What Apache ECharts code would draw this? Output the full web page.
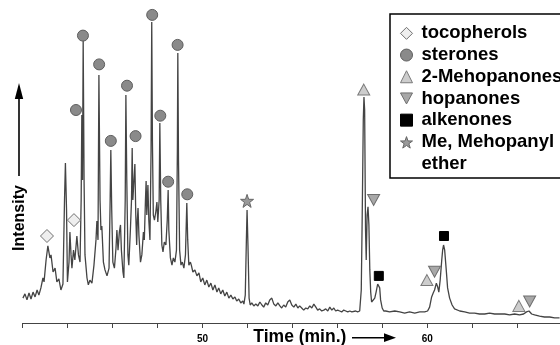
<!DOCTYPE html>
<html><head><meta charset="utf-8">
<script src="https://cdn.jsdelivr.net/npm/echarts@6/dist/echarts.min.js"></script>
<style>html,body{margin:0;padding:0;background:#fff}#c{width:560px;height:345px}</style>
</head><body><div id="c"></div>
<script>
// Chromatogram trace: retention time (min) and relative intensity
const timeMin = [42.01,42.10,42.19,42.28,42.37,42.46,42.55,42.64,42.72,42.81,42.90,42.95,43.04,43.12,43.21,43.26,43.35,43.44,43.52,43.61,43.70,43.79,43.86,43.90,43.95,43.99,44.06,44.10,44.15,44.19,44.26,44.32,44.41,44.48,44.55,44.60,44.63,44.66,44.69,44.73,44.77,44.86,44.92,44.99,45.08,45.17,45.26,45.30,45.35,45.39,45.44,45.48,45.52,45.59,45.66,45.75,45.84,45.89,45.92,45.96,46.01,46.08,46.15,46.19,46.24,46.30,46.35,46.39,46.46,46.50,46.56,46.59,46.63,46.68,46.72,46.79,46.84,46.87,46.90,46.96,46.99,47.03,47.07,47.10,47.13,47.17,47.24,47.30,47.37,47.41,47.46,47.49,47.52,47.57,47.61,47.66,47.71,47.74,47.77,47.81,47.86,47.92,47.97,48.01,48.07,48.10,48.14,48.19,48.24,48.30,48.37,48.43,48.47,48.50,48.57,48.64,48.70,48.77,48.84,48.88,48.90,48.93,48.98,49.04,49.10,49.17,49.24,49.28,49.30,49.34,49.39,49.46,49.50,49.57,49.66,49.75,49.84,49.92,50.01,50.10,50.19,50.28,50.37,50.46,50.55,50.64,50.72,50.81,50.90,50.99,51.08,51.17,51.26,51.35,51.44,51.52,51.61,51.70,51.79,51.84,51.90,51.95,51.98,52.02,52.07,52.12,52.19,52.28,52.37,52.46,52.55,52.64,52.72,52.81,52.90,52.99,53.08,53.17,53.26,53.35,53.44,53.52,53.61,53.70,53.79,53.88,53.97,54.06,54.15,54.24,54.32,54.41,54.50,54.59,54.68,54.77,54.86,54.95,55.04,55.12,55.21,55.30,55.39,55.48,55.57,55.66,55.75,55.84,55.92,56.01,56.10,56.19,56.28,56.37,56.46,56.55,56.64,56.72,56.81,56.90,56.99,57.06,57.10,57.15,57.18,57.21,57.25,57.28,57.32,57.36,57.40,57.44,57.48,57.52,57.59,57.66,57.72,57.79,57.84,57.88,57.92,57.99,58.06,58.15,58.32,58.55,58.77,58.99,59.21,59.44,59.66,59.88,60.01,60.10,60.19,60.26,60.32,60.40,60.46,60.51,60.57,60.64,60.68,60.72,60.77,60.84,60.90,60.99,61.10,61.21,61.44,61.66,61.88,62.10,62.32,62.55,62.77,62.99,63.21,63.44,63.66,63.88,64.10,64.28,64.41,64.52,64.64,64.77,64.99,65.21,65.44,65.66,65.88];
const intensity = [8.3,9.7,7.7,10.0,8.0,10.3,8.7,11.0,9.3,11.7,15.0,13.7,21.0,25.7,21.7,22.7,17.0,18.3,13.7,14.7,11.0,13.0,41.0,53.3,37.7,13.7,20.3,30.3,22.7,18.3,24.3,21.0,29.0,22.7,20.3,41.0,69.3,47.7,94.3,47.7,22.7,15.0,12.7,14.3,13.3,19.3,27.7,34.0,27.7,82.7,41.0,31.0,32.3,20.3,17.7,15.7,18.3,41.0,57.7,37.7,20.3,18.3,25.0,31.0,24.3,30.3,32.7,24.3,17.0,15.0,41.0,76.0,47.7,22.7,19.3,31.0,41.0,58.3,41.0,41.0,53.0,36.0,26.0,34.3,38.3,29.3,20.3,22.7,30.3,27.7,41.0,47.3,36.0,46.0,34.3,27.7,57.7,100.3,61.0,36.0,34.3,37.0,40.3,33.7,41.0,66.7,41.0,26.0,23.7,27.0,26.0,34.3,44.3,31.0,21.7,19.3,21.7,20.3,24.3,57.7,90.0,54.3,24.3,19.3,20.3,18.3,22.7,34.3,40.0,27.7,19.3,20.3,19.3,17.0,17.7,15.7,16.7,13.7,15.0,12.7,14.3,12.0,13.3,11.0,12.7,10.3,11.7,9.7,11.0,9.0,10.3,8.3,9.3,8.0,8.7,7.3,8.0,6.7,7.3,6.3,9.3,27.7,37.7,26.0,8.3,6.0,6.7,5.7,6.3,5.7,7.0,6.0,5.3,6.7,6.0,7.7,8.3,6.3,5.7,6.7,5.7,5.0,6.0,5.3,7.0,7.7,6.0,5.3,6.3,5.0,5.7,5.0,4.3,5.0,4.7,5.7,5.0,6.3,5.3,4.3,4.7,4.0,4.3,4.7,4.0,5.3,4.3,5.0,4.0,4.3,4.0,3.7,4.3,4.0,3.7,4.0,3.7,4.0,4.0,3.7,4.0,11.0,34.3,67.7,75.3,71.0,31.0,21.0,36.0,38.7,32.7,17.7,10.3,7.0,6.7,8.3,10.3,13.0,13.3,11.7,7.7,5.0,4.0,4.0,3.7,4.0,3.7,3.3,3.7,3.3,3.7,3.7,4.0,5.3,8.7,10.0,11.0,13.3,12.0,10.3,14.3,21.0,24.3,26.0,24.3,17.7,11.7,8.3,6.0,4.7,4.0,3.7,3.3,3.3,3.0,3.0,3.3,3.0,3.0,3.0,2.7,3.0,2.7,3.0,3.7,4.0,3.0,2.7,2.3,2.0,2.0,1.7,1.7];

// Peak annotations (marker positions: time, intensity)
const tocopherolsTime = [43.08, 44.28];
const tocopherolsInt  = [29.0, 34.3];
const steronesTime = [44.37, 44.68, 45.40, 45.92, 46.64, 47.02, 47.76, 48.12, 48.47, 48.89, 49.32];
const steronesInt  = [71.0, 95.8, 86.2, 60.7, 79.1, 62.3, 102.7, 69.1, 47.1, 92.7, 42.9];
const mehopanonesTime = [57.17, 59.98, 64.07];
const mehopanonesInt  = [77.8, 14.3, 5.7];
const hopanonesTime = [57.61, 60.32, 64.55];
const hopanonesInt  = [41.0, 17.1, 7.2];
const alkenonesTime = [57.84, 60.74];
const alkenonesInt  = [15.7, 29.0];
const etherTime = [51.98];
const etherInt  = [40.7];

const xTickLabels = [50, 60];
const seriesNames = ['tocopherols', 'sterones', '2-Mehopanones', 'hopanones', 'alkenones', 'Me, Mehopanyl ether'];

const FONT = "'Liberation Sans', Arial, Helvetica, sans-serif";
const STAR = 'path://M12,1 L14.8,9.2 L23.4,9.3 L16.5,14.5 L19.1,22.8 L12,17.8 L4.9,22.8 L7.5,14.5 L0.6,9.3 L9.2,9.2 Z';
const DOWN_TRI = 'path://M0,0 L12,0 L6,11 Z';
const zip = (a, b) => a.map((v, i) => [v, b[i]]);

const markerSeries = (name, t, v, symbol, size, fill, border) => ({
  name, type: 'scatter', data: zip(t, v), symbol, symbolSize: size,
  clip: false, z: 5,
  itemStyle: { color: fill, borderColor: border, borderWidth: 1, opacity: 1 },
  emphasis: { disabled: true }
});

const legendFont = { fontFamily: FONT, fontWeight: 'bold', fontSize: 18.5, color: '#000' };

const chart = echarts.init(document.getElementById('c'), null, { renderer: 'canvas' });
chart.setOption({
  animation: false,
  backgroundColor: '#fff',
  grid: { left: 22.7, right: 0, top: 23, bottom: 22, outerBoundsMode: 'none', containLabel: false },
  xAxis: {
    type: 'value', min: 42, max: 65.9, interval: 2,
    name: 'Time (min.)', nameLocation: 'middle', nameGap: 5, nameMoveOverlap: false,
    nameTextStyle: { fontFamily: FONT, fontWeight: 'bold', fontSize: 17.5, color: '#000', padding: [0, 0, 0, 17] },
    axisLine: { show: true, lineStyle: { color: '#444', width: 1 } },
    axisTick: { show: true, length: 5, inside: false, lineStyle: { color: '#444', width: 1 } },
    axisLabel: { margin: 11, fontFamily: FONT, fontWeight: 'bold', fontSize: 10, color: '#000',
      showMinLabel: true, showMaxLabel: false,
      formatter: v => (xTickLabels.indexOf(Math.round(v)) >= 0 && Math.abs(v - Math.round(v)) < 1e-6) ? String(Math.round(v)) : '' },
    splitLine: { show: false }
  },
  yAxis: {
    type: 'value', min: 0, max: 100,
    name: 'Intensity', nameLocation: 'middle', nameRotate: 90, nameGap: -4.5, nameMoveOverlap: false,
    nameTextStyle: { fontFamily: FONT, fontWeight: 'bold', fontSize: 16, color: '#000', padding: [0, 90, 0, 0] },
    axisLine: { show: false }, axisTick: { show: false }, axisLabel: { show: false }, splitLine: { show: false }
  },
  legend: {
    orient: 'vertical', left: 390, top: 14,
    data: seriesNames.map(n => n === 'hopanones' ? { name: n, icon: DOWN_TRI } : n),
    formatter: n => n === 'Me, Mehopanyl ether' ? '{a|Me, Mehopanyl}\n{b|ether}' : n,
    itemWidth: 12, itemHeight: 12, itemGap: 0,
    padding: [8.5, 8, 3.5, 10],
    borderColor: '#000', borderWidth: 1.5, backgroundColor: '#fff',
    selectedMode: false,
    itemStyle: { borderWidth: 1 },
    textStyle: Object.assign({}, legendFont, {
      lineHeight: 21.7, padding: [0, 0, 0, 4],
      rich: {
        a: Object.assign({}, legendFont, { lineHeight: 21.7 }),
        b: Object.assign({}, legendFont, { lineHeight: 1, height: 21.7, verticalAlign: 'top' })
      }
    })
  },
  graphic: [
    { type: 'line', shape: { x1: 19, y1: 176, x2: 19, y2: 96 }, style: { stroke: '#000', lineWidth: 1.6 } },
    { type: 'polygon', shape: { points: [[19, 83], [14.8, 99], [23.2, 99]] }, style: { fill: '#000' } },
    { type: 'line', shape: { x1: 352, y1: 337.7, x2: 386, y2: 337.7 }, style: { stroke: '#000', lineWidth: 1.6 } },
    { type: 'polygon', shape: { points: [[396, 337.7], [384, 333.3], [384, 342.1]] }, style: { fill: '#000' } }
  ],
  series: [
    { name: 'trace', type: 'line', data: zip(timeMin, intensity), showSymbol: false, clip: false,
      lineStyle: { color: '#444444', width: 1.3 }, z: 2, emphasis: { disabled: true } },
    markerSeries('tocopherols', tocopherolsTime, tocopherolsInt, 'diamond', 13, '#eeeeee', '#707070'),
    markerSeries('sterones', steronesTime, steronesInt, 'circle', 11, '#8a8a8a', '#5e5e5e'),
    markerSeries('2-Mehopanones', mehopanonesTime, mehopanonesInt, 'triangle', [12, 11], '#cdcdcd', '#7a7a7a'),
    markerSeries('hopanones', hopanonesTime, hopanonesInt, DOWN_TRI, [12, 11], '#a8a8a8', '#6e6e6e'),
    markerSeries('alkenones', alkenonesTime, alkenonesInt, 'rect', 9, '#000000', '#000000'),
    markerSeries('Me, Mehopanyl ether', etherTime, etherInt, STAR, 13, '#9a9a9a', '#666666')
  ]
});
</script></body></html>
